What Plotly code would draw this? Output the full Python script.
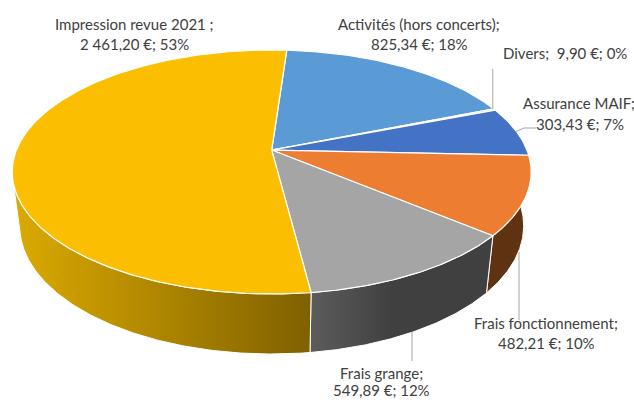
import numpy as np
import plotly.graph_objects as go

# --- data, clockwise from the top of the pie ---
categories = ["Activités (hors concerts)", "Divers", "Assurance MAIF",
              "Frais fonctionnement", "Frais grange", "Impression revue 2021 "]
values = [825.34, 9.90, 303.43, 482.21, 549.89, 2461.20]
amount_labels = ["825,34 €", "9,90 €", "303,43 €", "482,21 €", "549,89 €", "2 461,20 €"]

# --- styling ---
top_colors = ["#5B9BD5", "#70AD47", "#4472C4", "#ED7D31", "#A5A5A5", "#FCBE00"]
TEXT = "#404040"
LEADER = "#A6A6A6"
FONT = "Lato"
FONT_SIZE = 15

# --- projection of the tilted disc onto the page (pixels) ---
W, H = 634, 400
START = 4.0
K = 0.18
CX = 271.7
TOP = dict(a=259.5, b=122.0, cy=172.0)
BOT = dict(a=252.0, b=128.0, cy=226.0)
SIL_L = 254.0


def project(theta_deg, face):
    t = np.radians(np.asarray(theta_deg, dtype=float))
    u, v = np.sin(t), np.cos(t)
    den = 1 + K * v
    A = face["a"] * np.sqrt(1 - K * K)
    return CX + A * u / den, face["cy"] - face["b"] * (v + K) / den


total = sum(values)
edges = START + np.concatenate([[0], np.cumsum(values)]) / total * 360

fig = go.Figure()


def wall(t0, t1, **style):
    th = np.linspace(t0, t1, 120)
    xt, yt = project(th, TOP)
    xb, yb = project(th[::-1], BOT)
    fig.add_trace(go.Scatter(x=np.r_[xt, xb, xt[0]], y=np.r_[yt, yb, yt[0]], mode="lines",
                             fill="toself", line=dict(color="white", width=1),
                             hoverinfo="skip", showlegend=False, **style))


# side walls that face the viewer
wall(edges[3], edges[4], fillcolor="#5F3312")
wall(edges[4], edges[5],
     fillgradient=dict(type="horizontal",
                       colorscale=[[0, "#5C5C5C"], [0.45, "#404040"], [1, "#404040"]]))
wall(edges[5], SIL_L,
     fillgradient=dict(type="horizontal",
                       colorscale=[[0, "#DCAA00"], [1, "#7F6000"]]))

# top faces
apex_x, apex_y = CX, TOP["cy"] - TOP["b"] * K
for i, c in enumerate(top_colors):
    th = np.linspace(edges[i], edges[i + 1], max(3, int(edges[i + 1] - edges[i]) * 2))
    x, y = project(th, TOP)
    fig.add_trace(go.Scatter(x=np.r_[apex_x, x, apex_x], y=np.r_[apex_y, y, apex_y], mode="lines",
                             fill="toself", fillcolor=c, line=dict(color="white", width=1.2),
                             hoverinfo="skip", showlegend=False))

# leader lines
leaders = [([492.8, 492.8], [69, 109]),
           ([516, 524, 536], [131.5, 128, 128]),
           ([519, 519], [252, 320]),
           ([412, 412], [332, 361])]
for lx, ly in leaders:
    fig.add_trace(go.Scatter(x=lx, y=ly, mode="lines", line=dict(color=LEADER, width=1),
                             hoverinfo="skip", showlegend=False))

# data labels
pct = [f"{round(v / total * 100)}%" for v in values]
lines = {
    0: [(f"{categories[0]};", 419, 24), (f"{amount_labels[0]}; {pct[0]}", 419, 44)],
    1: [(f"{categories[1]};  {amount_labels[1]}; {pct[1]}", 565, 53)],
    2: [(f"{categories[2]};", 579, 103), (f"{amount_labels[2]}; {pct[2]}", 580, 124)],
    3: [(f"{categories[3]};", 546, 323), (f"{amount_labels[3]}; {pct[3]}", 546, 343)],
    4: [(f"{categories[4]};", 381, 373), (f"{amount_labels[4]}; {pct[4]}", 381, 389.5)],
    5: [(f"{categories[5]};", 134, 24), (f"{amount_labels[5]}; {pct[5]}", 134, 44)],
}
for group in lines.values():
    for txt, x, y in group:
        fig.add_annotation(x=x, y=y, text=txt, showarrow=False, xanchor="center", yanchor="middle",
                           font=dict(family=FONT, size=FONT_SIZE, color=TEXT))

fig.update_layout(width=W, height=H, margin=dict(l=0, r=0, t=0, b=0),
                  paper_bgcolor="white", plot_bgcolor="white", showlegend=False,
                  xaxis=dict(range=[0, W], visible=False, fixedrange=True),
                  yaxis=dict(range=[H, 0], visible=False, fixedrange=True))
fig.write_html("out.html", config=dict(displayModeBar=False),
               post_script="document.body.style.margin='0';document.body.style.overflow='hidden';")
